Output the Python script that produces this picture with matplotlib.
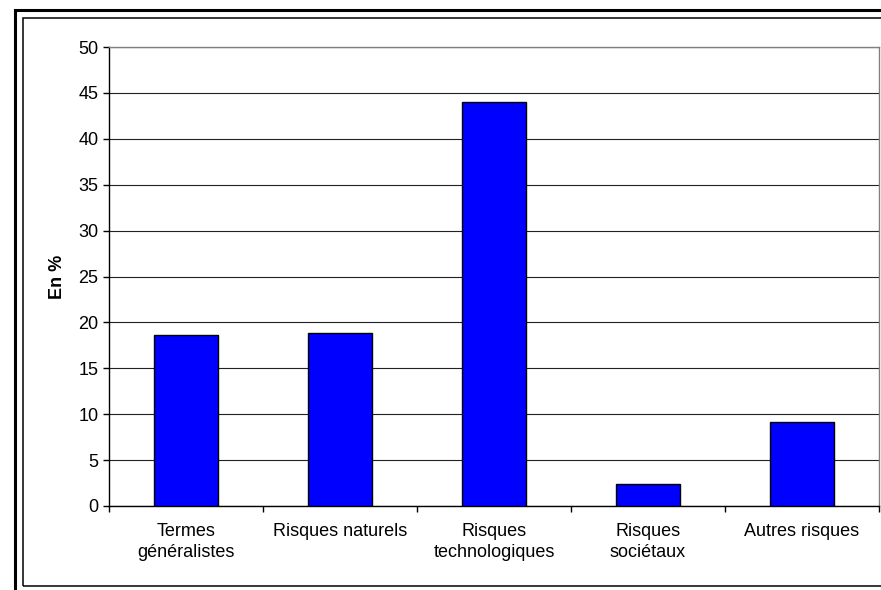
import matplotlib
matplotlib.use("Agg")
import matplotlib.pyplot as plt
from matplotlib.patches import Rectangle
import numpy as np

# data
categories = ["Termes\ngénéralistes", "Risques naturels", "Risques\ntechnologiques",
              "Risques\nsociétaux", "Autres risques"]
values = [18.6, 18.8, 44.0, 2.4, 9.1]

plt.rcParams['font.family'] = ['Liberation Sans', 'DejaVu Sans']

fig = plt.figure(figsize=(8.81, 5.90), dpi=100)
W, H = 881, 590

# chart area borders (thick outer, thin inner)
fig.add_artist(Rectangle((14.5 / W, -0.1), 1.2, (590 - 9.5) / H + 0.1,
                         transform=fig.transFigure, fill=False,
                         edgecolor='black', linewidth=2.2))
fig.add_artist(Rectangle((22.5 / W, (590 - 585.5) / H), 1.2, (585.5 - 17.5) / H,
                         transform=fig.transFigure, fill=False,
                         edgecolor='black', linewidth=1.1))

ax = fig.add_axes([109 / W, (590 - 506) / H, 770 / W, 459 / H])
x = np.arange(len(categories))
ax.bar(x, values, width=0.41, color='#0000FF', edgecolor='black', linewidth=1.0, zorder=3)

ax.set_xlim(-0.5, len(categories) - 0.5)
ax.set_ylim(0, 50)
ax.set_yticks(np.arange(0, 51, 5))
ax.yaxis.grid(True, color='#222222', linewidth=0.8, zorder=0)

# category labels at centres, ticks on boundaries
ax.set_xticks(x)
ax.set_xticklabels(categories, fontsize=13, linespacing=1.3)
ax.tick_params(axis='x', length=0, pad=12)
ax.set_xticks(np.arange(-0.5, len(categories)), minor=True)
ax.tick_params(axis='x', which='minor', length=4.5, width=1, color='black')
ax.tick_params(axis='y', length=4.5, width=1, color='black', labelsize=13, pad=3)

ax.spines['left'].set_color('black')
ax.spines['bottom'].set_color('black')
ax.spines['top'].set_color('#808080')
ax.spines['right'].set_color('#808080')
for s in ax.spines.values():
    s.set_linewidth(1.0)

ax.set_ylabel("En %", fontsize=13, fontweight='bold', labelpad=9)

fig.savefig("out.png", dpi=100)
